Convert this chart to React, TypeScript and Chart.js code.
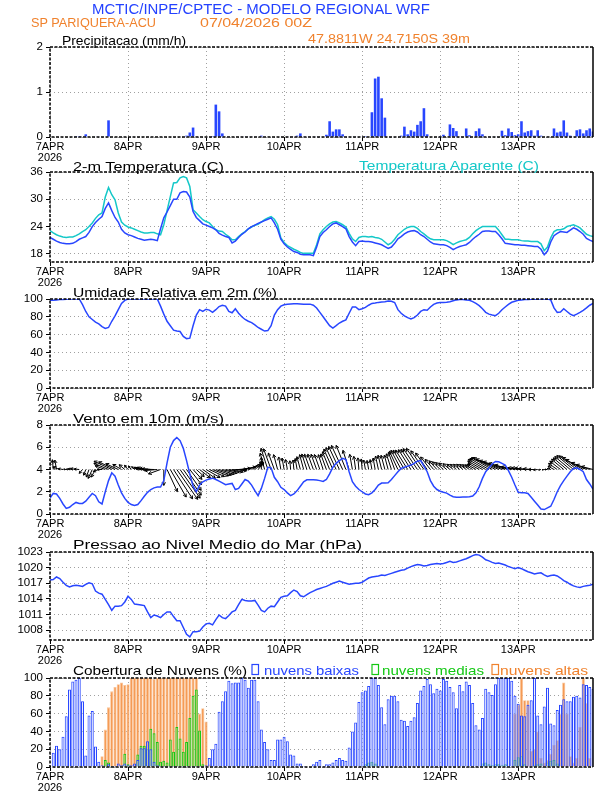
import React, { useEffect, useRef } from "react";
import { Chart, registerables } from "chart.js";
Chart.register(...registerables);

const FONT = "'Liberation Sans', Arial, sans-serif";
Chart.defaults.font.family = FONT;

// ---------- axis labels ----------
const dayTicks = [0, 24, 48, 72, 96, 120, 144];
const dayLabels = ["7APR", "8APR", "9APR", "10APR", "11APR", "12APR", "13APR"];
const yearLabel = "2026";
const precipTicks = [0, 1, 2];
const tempTicks = [18, 21, 24, 27, 30, 33, 36];
const rhTicks = [0, 20, 40, 60, 80, 100];
const windTicks = [0, 2, 4, 6, 8];
const presTicks = [1008, 1011, 1014, 1017, 1020, 1023];
const cloudTicks = [0, 20, 40, 60, 80, 100];

// ---------- hourly series (7 days x 24 h) ----------
const precip = [
  0,0,0,0,0,0,0,0,0.02,0.02,0,0.06,0,0,0.01,0.01,0,0,0.37,0,0,0,0,0,
  0,0.01,0,0,0,0,0,0,0,0,0,0,0,0,0,0,0,0,0.03,0.1,0.21,0,0,0,
  0,0,0.02,0.72,0.57,0.08,0,0,0,0,0,0.01,0.01,0.01,0.01,0.01,0.01,0.03,0.01,0,0,0,0,0,
  0,0.01,0.01,0.01,0.03,0.08,0.01,0.01,0.01,0.01,0.01,0.01,0,0.05,0.35,0.12,0.17,0.17,0.06,0.01,0.01,0.01,0.01,0,
  0.01,0.02,0,0.55,1.3,1.34,0.86,0.43,0,0,0,0,0.03,0.23,0.06,0.15,0.12,0.27,0.35,0.64,0.06,0,0,0,
  0.02,0.05,0,0.28,0.2,0.13,0.01,0.01,0.19,0.04,0,0.13,0.19,0.06,0,0.01,0.01,0.01,0,0.14,0.04,0.19,0.11,0.04,
  0.06,0.35,0.1,0.13,0.15,0.03,0.15,0.03,0,0.01,0.01,0.19,0.1,0.12,0.37,0.1,0.03,0.01,0.15,0.17,0.08,0.15,0.19,0.12,
];

const temp2m = [
  21.6,21.2,20.8,20.5,20.3,20.2,20.2,20.3,20.7,21.2,21.5,21.8,22.7,24.0,24.9,25.6,26.2,28.0,29.2,27.5,26.0,25.0,23.4,22.6,
  22.2,22.0,21.7,21.4,21.2,21.0,21.1,21.2,21.1,20.9,23.5,25.9,27.2,28.6,30.0,30.0,31.4,31.7,31.6,30.5,27.3,26.0,25.3,24.6,
  24.3,24.0,23.7,23.3,22.5,22.1,21.8,21.6,20.4,20.8,21.6,22.3,22.8,23.5,24.0,24.3,24.7,25.0,25.3,25.6,25.9,24.8,23.4,21.2,
  20.2,19.5,19.0,18.5,18.3,17.9,17.8,17.8,17.8,17.6,19.5,21.8,22.7,23.3,24.0,24.6,24.8,24.4,24.0,23.5,21.8,20.6,19.8,20.7,
  20.8,20.7,20.7,20.6,20.4,20.2,20.0,19.6,19.2,19.5,20.3,21.3,21.8,22.4,22.8,23.0,23.1,22.8,22.2,21.8,21.2,20.6,20.2,20.1,
  20.0,20.0,19.8,19.4,18.9,19.3,19.6,19.8,20.0,20.5,21.2,21.8,22.3,22.9,23.0,23.0,22.9,22.9,22.2,21.3,20.3,20.2,20.1,20.0,
  20.0,19.9,19.9,19.8,19.7,19.6,19.6,19.0,17.8,18.6,20.6,22.0,22.5,22.9,22.8,22.7,23.2,23.7,23.4,22.9,22.3,21.4,21.0,20.7,
];

const tempApparent = [
  23.1,22.6,22.2,21.9,21.7,21.6,21.7,21.7,22.0,22.4,22.9,23.3,24.0,24.8,25.8,26.6,27.0,30.5,32.6,31.0,29.9,27.0,25.0,24.3,
  23.9,23.7,23.4,23.1,22.8,22.6,22.6,22.7,22.7,22.4,22.2,24.4,27.5,30.6,33.6,33.7,34.7,35.0,34.7,32.8,27.7,27.0,26.2,25.5,
  25.1,24.8,24.0,23.3,23.0,22.9,22.3,21.8,21.1,21.1,21.8,22.4,22.9,23.5,23.9,24.3,24.5,25.0,25.5,25.9,26.2,25.6,24.4,21.5,
  20.5,19.8,19.4,19.0,18.7,18.3,18.1,18.1,18.1,18.1,20.0,22.4,23.3,24.0,24.6,25.0,25.1,24.8,24.4,23.9,22.5,21.3,20.7,21.6,
  21.8,21.8,21.7,21.8,21.6,21.5,21.2,20.6,20.0,20.4,21.2,22.2,22.8,23.4,23.8,24.0,24.0,23.6,22.9,22.4,21.8,21.3,21.1,21.1,
  21.1,21.1,20.9,20.5,20.0,20.4,20.7,20.9,21.1,21.6,22.4,23.1,23.6,24.0,24.0,24.0,24.0,24.0,23.2,22.2,21.2,21.2,21.1,21.1,
  21.1,20.9,20.8,20.8,20.7,20.7,20.7,20.2,18.7,19.5,21.5,22.9,23.3,23.3,23.5,24.0,24.2,24.4,24.1,23.7,23.0,22.3,22.0,21.8,
];

const relHumidity = [
  98.5,98.7,99,99.3,99.5,99.8,100,100,100,100,93.6,86,80,77,74,72,69,67,68,75,81,88,95,98.5,
  100,100,100,100,100,100,100,100,100,100,92,83,75,70,65,64,63.5,58,55.5,56,70,82,88,86,
  88.5,87.5,85,88,91.5,93,92,86,84.5,89,84,80,77,75,73.5,71,68,66,64,64.5,70,82,88,92,
  93.5,94,94.4,94.6,94.8,94.5,94,94,94.2,93,89.9,85,80,75,70,67.4,70,73,75,76.5,84,91,91,88,
  89,90.6,93,95,95.5,96.2,96.6,97,97.8,97.5,96,88,84,81,79,77.5,79,82,86,88,87.3,91,94,95.5,
  96,96.2,96.3,97,98,99,99.3,99.3,99,98.5,97,95,92.5,89,85,83,82,81.3,84,88,91,94,96.3,97.5,
  98.5,99,99.3,99.5,99.7,99.8,100,100,100,100,99,90,85,85.4,89,86,83,81.3,83,85,87.3,90,93,95,
];

const windSpeed = [
  1.43,1.85,1.8,1.4,0.9,0.5,0.6,0.85,1.04,0.95,0.95,1.15,1.5,1.85,1.65,1.1,0.9,2.0,3.0,3.7,3.4,2.6,1.9,1.4,
  1.05,0.85,0.76,0.85,1.2,1.6,1.95,2.2,2.35,2.42,2.42,3.0,4.6,6.0,6.6,6.87,6.6,5.9,4.8,3.6,2.5,2.0,2.6,2.9,
  3.05,3.15,3.22,3.1,2.95,2.8,2.63,2.7,2.75,2.2,2.3,2.7,3.1,2.95,2.6,2.1,1.65,2.3,3.2,4.2,4.15,3.3,2.9,2.4,
  2.2,1.9,1.65,1.8,2.1,2.5,2.9,3.07,3.07,3.07,3.05,3.0,2.93,3.1,3.6,4.2,4.55,4.8,5.0,4.9,3.8,2.9,2.5,2.2,
  2.0,1.8,1.73,1.9,2.2,2.6,2.78,2.78,2.8,3.1,3.45,3.8,4.1,4.2,4.3,4.4,4.55,4.75,4.8,4.3,3.8,3.0,2.5,2.2,
  2.05,1.95,1.88,1.7,1.55,1.5,1.5,1.52,1.52,1.55,1.62,1.9,2.45,3.2,3.8,4.15,4.5,4.72,4.7,4.55,4.4,3.9,3.3,2.6,
  1.95,1.9,1.9,1.85,1.5,1.15,0.8,0.45,0.4,0.55,0.7,1.3,2.0,2.55,3.0,3.4,3.8,4.1,4.15,4.0,3.8,3.1,2.7,2.24,
];

// direction the wind vector points to (degrees, 0 = east, 90 = north)
const windDir = [
  95,95,100,160,170,175,175,170,170,175,230,250,250,245,240,200,180,160,157,155,155,155,150,140,
  130,130,135,150,165,170,172,175,178,185,200,270,295,300,303,305,305,305,305,308,312,318,322,325,
  330,335,338,340,342,345,348,350,355,0,5,10,15,25,35,40,50,90,105,108,110,110,105,100,
  100,100,95,95,100,105,105,108,110,110,110,110,108,110,112,114,115,115,115,112,108,100,98,95,
  95,100,100,100,100,102,104,105,105,108,110,115,118,120,122,122,123,124,124,125,125,128,130,132,
  135,138,140,140,140,140,140,140,142,145,148,150,150,150,150,150,150,152,155,158,160,162,165,168,
  170,170,172,175,175,180,185,190,190,180,165,150,145,142,140,140,140,140,142,145,150,155,160,165,
];
const arrowBase = 4;

const pressure = [
  1017.6,1017.7,1018.2,1017.9,1017.2,1016.6,1016.3,1016.5,1016.6,1016.5,1016.4,1016.8,1017.1,1016.9,1015.5,1015.1,1014.9,1013.9,1012.9,1011.8,1012.6,1012.6,1012.7,1013.4,
  1014.5,1013.9,1013.0,1012.9,1012.8,1012.7,1011.5,1010.4,1010.9,1010.7,1010.4,1011.0,1011.5,1011.5,1010.6,1009.8,1009.8,1008.5,1007.2,1006.7,1007.7,1007.7,1007.8,1008.6,
  1009.2,1009.3,1009.0,1010.0,1010.9,1010.4,1010.2,1010.8,1011.5,1011.8,1012.9,1013.9,1013.7,1013.6,1013.6,1013.7,1012.8,1011.8,1011.5,1012.2,1012.6,1012.5,1013.4,1014.3,
  1014.5,1014.6,1015.2,1015.7,1015.4,1014.6,1014.4,1014.8,1015.2,1015.5,1015.8,1016.0,1016.2,1016.4,1016.7,1017.0,1017.2,1017.4,1017.2,1017.0,1016.8,1016.9,1017.0,1017.0,
  1017.2,1017.6,1018.0,1018.2,1018.3,1018.4,1018.6,1018.5,1018.7,1018.9,1019.1,1019.3,1019.5,1019.6,1019.9,1020.2,1020.4,1020.6,1020.5,1020.3,1020.4,1020.6,1020.7,1020.8,
  1020.7,1020.8,1021.0,1021.2,1021.0,1021.1,1021.3,1021.5,1021.7,1022.0,1022.3,1022.5,1022.4,1022.0,1021.5,1021.3,1021.0,1020.8,1020.9,1020.7,1020.5,1020.2,1020.0,1019.8,
  1020.0,1019.8,1019.5,1019.2,1019.0,1018.8,1018.9,1019.0,1018.6,1018.3,1018.5,1018.6,1018.4,1018.0,1017.5,1017.2,1016.8,1016.5,1016.3,1016.2,1016.4,1016.5,1016.6,1016.8,
];

const cloudLow = [
  0,16,24,20,34,57,87,96,98,100,74,13,58,63,23,6,2,1,3,1,1,4,2,4,
  2,2,4,8,21,21,29,20,6,2,1,1,1,1,1,1,1,1,1,1,1,1,1,0,
  2,10,20,26,62,74,85,97,94,95,95,100,98,89,98,98,74,42,28,20,8,8,31,31,
  34,29,14,13,4,4,1,0,0,3,6,8,1,3,3,5,8,10,8,7,22,40,50,73,
  84,86,91,100,100,92,67,48,76,80,80,74,53,52,46,52,56,72,86,91,99,93,83,88,
  86,99,97,90,84,66,92,85,96,92,72,47,42,55,88,84,81,93,100,100,100,100,97,80,
  71,58,57,70,75,100,58,48,68,89,49,47,64,70,76,74,74,79,80,78,93,92,90,88,
];

const cloudMid = [
  0,0,0,0,0,0,0,0,0,0,0,0,0,0,0,0,0,8,5,1,0,0,0,15,
  3,0,0,14,24,24,20,43,38,28,6,7,5,31,17,45,32,17,28,55,80,87,41,3,
  0,0,0,0,0,0,0,0,0,0,0,0,0,0,0,0,0,0,0,0,0,0,0,0,
  0,0,0,0,0,0,0,0,0,0,0,0,0,0,0,0,0,0,0,0,0,0,0,0,
  0,3,5,6,4,0,0,0,0,0,0,0,0,0,0,0,0,0,0,0,0,0,0,0,
  0,0,0,0,0,0,0,0,0,0,0,0,0,4,5,3,2,3,3,2,3,0,0,8,
  11,12,3,0,0,2,3,4,0,5,7,8,4,0,0,0,0,0,0,0,0,0,0,0,
];

const cloudHigh = [
  0,0,0,0,0,0,0,0,0,0,0,0,0,0,0,0,12,42,67,85,90,93,95,92,
  93,100,100,100,100,100,100,100,99,100,100,100,100,100,100,100,100,100,100,100,100,100,60,66,
  51,3,0,0,0,0,0,0,0,0,0,0,0,0,0,0,0,0,0,0,0,0,0,0,
  0,0,0,0,0,0,0,0,0,0,0,0,0,0,0,0,0,0,0,0,0,0,0,0,
  0,0,0,0,0,0,0,0,0,0,0,0,0,0,0,0,0,0,0,0,0,0,0,0,
  0,0,0,0,0,0,0,0,0,0,0,0,0,0,0,0,0,0,0,0,0,0,0,60,
  70,100,75,75,18,20,40,10,5,8,15,25,30,60,95,60,12,5,10,45,100,72,10,0,
];

const hours = precip.map((_, i) => i);
const pts = (arr: number[]) => arr.map((y, i) => ({ x: hours[i], y }));

// ---------- styling ----------
const W = 612;
const H = 792;
const PLOT_LEFT = 50;
const PLOT_RIGHT = 593;
const PAD_TOP = 12;
const X_AXIS_H = 30;
const LINE_BLUE = "rgb(40,70,255)";
const CYAN = "rgb(20,200,200)";
const TITLE_BLUE = "rgb(35,65,255)";
const ORANGE = "rgb(240,130,45)";
const GREEN = "rgb(20,200,20)";

const framePlugin = {
  id: "frame",
  afterDraw(chart: any) {
    const { ctx, chartArea } = chart;
    const { left, top, right, bottom } = chartArea;
    ctx.save();
    ctx.strokeStyle = "#000";
    ctx.lineWidth = 1.5;
    ctx.setLineDash([3, 1.5]);
    ctx.beginPath();
    ctx.moveTo(right, top);
    ctx.lineTo(left, top);
    ctx.lineTo(left, bottom);
    ctx.lineTo(right, bottom);
    ctx.stroke();
    ctx.setLineDash([]);
    ctx.beginPath();
    ctx.moveTo(right, top);
    ctx.lineTo(right, bottom);
    ctx.stroke();
    ctx.restore();
  },
};

const windArrowPlugin = {
  id: "windArrows",
  beforeDatasetsDraw(chart: any) {
    const { ctx, scales, chartArea } = chart;
    const xs = scales.x;
    const ys = scales.y;
    const pxPerMs = 5.3;
    ctx.save();
    ctx.beginPath();
    ctx.rect(chartArea.left, chartArea.top, chartArea.right - chartArea.left, chartArea.bottom - chartArea.top);
    ctx.clip();
    ctx.strokeStyle = "#000";
    ctx.lineWidth = 1;
    windSpeed.forEach((s, i) => {
      const x0 = xs.getPixelForValue(hours[i]);
      const y0 = ys.getPixelForValue(arrowBase);
      const a = (windDir[i] * Math.PI) / 180;
      const L = s * pxPerMs;
      const x1 = x0 + Math.cos(a) * L;
      const y1 = y0 - Math.sin(a) * L;
      const hl = Math.min(3.5, L * 0.5);
      ctx.beginPath();
      ctx.moveTo(x0, y0);
      ctx.lineTo(x1, y1);
      [-0.5, 0.5].forEach((d) => {
        ctx.moveTo(x1, y1);
        ctx.lineTo(x1 - Math.cos(a + d) * hl, y1 + Math.sin(a + d) * hl);
      });
      ctx.stroke();
    });
    ctx.restore();
  },
};

type PanelSpec = {
  id: string;
  plotTop: number;
  plotBottom: number;
  yMin: number;
  yMax: number;
  yTicks: number[];
  type: "bar" | "line";
  datasets: any[];
  plugins?: any[];
};

const lineDs = (arr: number[], color: string, order = 0) => ({
  type: "line",
  data: pts(arr),
  borderColor: color,
  backgroundColor: color,
  borderWidth: 1.5,
  pointRadius: 0,
  tension: 0,
  fill: false,
  order,
});

const barDs = (arr: number[], fill: string, border: string, bw: number, order: number, pct = 0.82) => ({
  type: "bar",
  data: pts(arr),
  backgroundColor: fill,
  borderColor: border,
  borderWidth: bw,
  barPercentage: pct,
  categoryPercentage: 1,
  grouped: false,
  order,
});

const panels: PanelSpec[] = [
  {
    id: "precip", plotTop: 47, plotBottom: 137, yMin: 0, yMax: 2, yTicks: precipTicks, type: "bar",
    datasets: [barDs(precip, LINE_BLUE, LINE_BLUE, 0, 0, 0.8)],
  },
  {
    id: "temp", plotTop: 172, plotBottom: 262, yMin: 16.2, yMax: 36, yTicks: tempTicks, type: "line",
    datasets: [lineDs(tempApparent, CYAN, 1), lineDs(temp2m, LINE_BLUE, 0)],
  },
  {
    id: "rh", plotTop: 299, plotBottom: 388, yMin: 0, yMax: 100, yTicks: rhTicks, type: "line",
    datasets: [lineDs(relHumidity, LINE_BLUE)],
  },
  {
    id: "wind", plotTop: 425, plotBottom: 514, yMin: 0, yMax: 8, yTicks: windTicks, type: "line",
    datasets: [lineDs(windSpeed, LINE_BLUE)], plugins: [windArrowPlugin],
  },
  {
    id: "pres", plotTop: 552, plotBottom: 640, yMin: 1006.1, yMax: 1023, yTicks: presTicks, type: "line",
    datasets: [lineDs(pressure, LINE_BLUE)],
  },
  {
    id: "cloud", plotTop: 678, plotBottom: 767, yMin: 0, yMax: 100, yTicks: cloudTicks, type: "bar",
    datasets: [
      barDs(cloudHigh, "rgb(245,155,85)", "rgb(250,195,150)", 0.8, 3, 0.98),
      barDs(cloudMid, "rgba(150,235,130,0.6)", GREEN, 1, 2, 0.9),
      barDs(cloudLow, "rgba(215,222,255,0.45)", LINE_BLUE, 1, 1, 0.92),
    ],
  },
];

function Panel({ spec }: { spec: PanelSpec }) {
  const ref = useRef<HTMLCanvasElement>(null);
  const height = PAD_TOP + (spec.plotBottom - spec.plotTop) + X_AXIS_H;
  useEffect(() => {
    const canvas = ref.current;
    if (!canvas) return;
    const gridCommon = {
      color: "#a0a0a0",
      lineWidth: 1,
      tickColor: "#000",
      tickLength: 4,
      tickBorderDash: [],
      drawTicks: true,
      offset: false,
    };
    const chart = new Chart(canvas, {
      type: spec.type,
      data: { datasets: spec.datasets },
      options: {
        responsive: false,
        animation: false,
        events: [],
        layout: { padding: { top: PAD_TOP, right: W - PLOT_RIGHT, left: 0, bottom: 0 } },
        plugins: { legend: { display: false }, tooltip: { enabled: false }, title: { display: false } },
        scales: {
          x: {
            type: "linear",
            min: 0,
            max: 167,
            offset: false,
            afterBuildTicks: (s: any) => {
              s.ticks = dayTicks.map((v) => ({ value: v }));
            },
            afterFit: (s: any) => {
              s.height = X_AXIS_H;
            },
            ticks: {
              autoSkip: false,
              maxRotation: 0,
              color: "#000",
              padding: 0,
              font: { size: 11, family: FONT, lineHeight: 1.05 },
              callback: (v: any) => {
                const i = dayTicks.indexOf(Number(v));
                const lab = dayLabels[i];
                return i === 0 ? [lab, yearLabel] : lab;
              },
            },
            grid: gridCommon,
            border: { display: false, dash: [1, 3] },
          },
          y: {
            type: "linear",
            min: spec.yMin,
            max: spec.yMax,
            afterBuildTicks: (s: any) => {
              s.ticks = spec.yTicks.map((v) => ({ value: v }));
            },
            afterFit: (s: any) => {
              s.width = PLOT_LEFT;
            },
            ticks: {
              color: "#000",
              padding: 3,
              font: { size: 11.5, family: FONT },
              callback: (v: any) => String(v),
            },
            grid: gridCommon,
            border: { display: false, dash: [1, 3] },
          },
        },
      } as any,
      plugins: [framePlugin, ...(spec.plugins || [])],
    } as any);
    return () => chart.destroy();
  }, []);
  return (
    <canvas
      ref={ref}
      width={W}
      height={height}
      style={{ position: "absolute", left: 0, top: spec.plotTop - PAD_TOP, width: W, height }}
    />
  );
}

type Label = { t: string; x: number; y: number; w: number; size: number; color: string };
const labels: Label[] = [
  { t: "MCTIC/INPE/CPTEC - MODELO REGIONAL WRF", x: 92, y: 13.5, w: 338, size: 15, color: TITLE_BLUE },
  { t: "SP PARIQUERA-ACU", x: 31, y: 26.7, w: 125, size: 13, color: ORANGE },
  { t: "07/04/2026 00Z", x: 200, y: 26.7, w: 112, size: 13, color: ORANGE },
  { t: "47.8811W 24.7150S 39m", x: 308, y: 43, w: 162, size: 13, color: ORANGE },
  { t: "Precipitacao (mm/h)", x: 62, y: 45, w: 124, size: 13, color: "#000" },
  { t: "2-m Temperatura (C)", x: 73, y: 170.5, w: 151, size: 13, color: "#000" },
  { t: "Temperatura Aparente (C)", x: 359, y: 170, w: 180, size: 13, color: CYAN },
  { t: "Umidade Relativa em 2m (%)", x: 73, y: 296.5, w: 204, size: 13, color: "#000" },
  { t: "Vento em 10m (m/s)", x: 73, y: 422.5, w: 151, size: 13, color: "#000" },
  { t: "Pressao ao Nivel Medio do Mar (hPa)", x: 73, y: 549, w: 289, size: 13, color: "#000" },
  { t: "Cobertura de Nuvens (%)", x: 73, y: 674.5, w: 174, size: 13, color: "#000" },
  { t: "nuvens baixas", x: 264, y: 674.5, w: 95, size: 13, color: LINE_BLUE },
  { t: "nuvens medias", x: 382, y: 674.5, w: 102, size: 13, color: GREEN },
  { t: "nuvens altas", x: 500, y: 674.5, w: 88, size: 13, color: ORANGE },
];
const legendBoxes = [
  { x: 252, color: LINE_BLUE },
  { x: 372, color: GREEN },
  { x: 492, color: ORANGE },
];

export default function App() {
  return (
    <div
      style={{
        position: "absolute",
        left: 0,
        top: 0,
        width: W,
        height: H,
        overflow: "hidden",
        background: "#fff",
      }}
    >
      {panels.map((p) => (
        <Panel key={p.id} spec={p} />
      ))}
      <svg
        width={W}
        height={H}
        style={{ position: "absolute", left: 0, top: 0, pointerEvents: "none" }}
      >
        {labels.map((l) => (
          <text
            key={l.t}
            x={l.x}
            y={l.y}
            fontSize={l.size}
            fill={l.color}
            fontFamily={FONT}
            textLength={l.w}
            lengthAdjust="spacingAndGlyphs"
          >
            {l.t}
          </text>
        ))}
        {legendBoxes.map((b) => (
          <rect key={b.x} x={b.x} y={664.5} width={6.5} height={10} fill="none" stroke={b.color} strokeWidth={1.2} />
        ))}
      </svg>
    </div>
  );
}
